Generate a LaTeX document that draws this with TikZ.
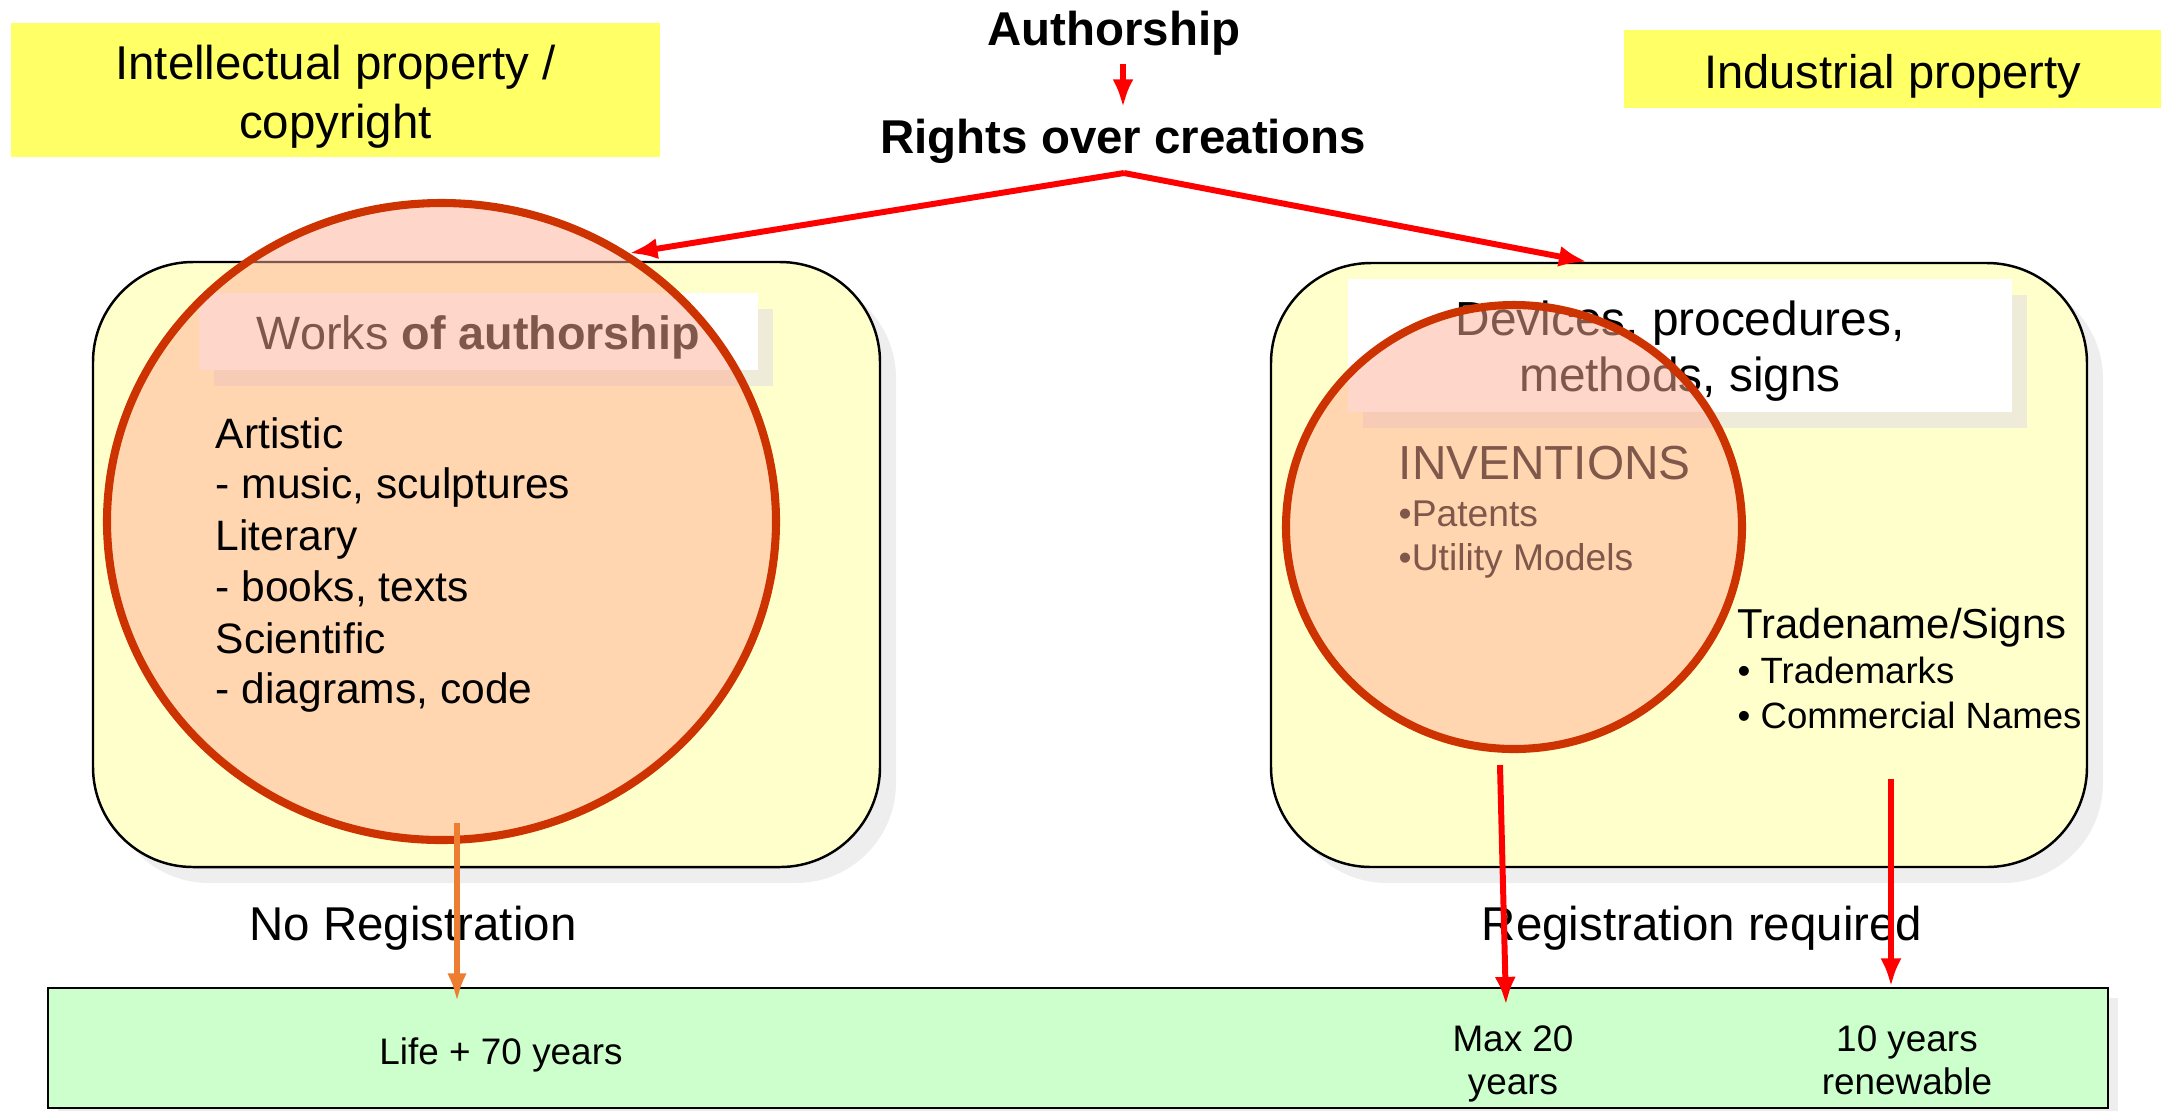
\documentclass[tikz,border=0pt]{standalone}
\usepackage{fontspec}
\setmainfont{Liberation Sans}
\usetikzlibrary{arrows.meta,shapes.geometric,shadows}
\definecolor{hlyellow}{RGB}{255,255,102}
\definecolor{paleyellow}{RGB}{255,255,204}
\definecolor{palegreen}{RGB}{204,255,204}
\definecolor{rimred}{RGB}{204,51,0}
\definecolor{blobfill}{RGB}{255,175,150}
\definecolor{arrred}{RGB}{255,0,0}
\definecolor{arrorange}{RGB}{237,125,49}
\definecolor{boxshade}{RGB}{238,238,238}
\definecolor{hdrshade}{RGB}{238,235,216}
\newcommand{\sz}[2]{\fontsize{#1}{#2}\selectfont}

\begin{document}
\begin{tikzpicture}[x=1cm,y=-1cm,
    labelbox/.style={rectangle,fill=hlyellow,inner sep=0pt},
    areabox/.style={rectangle,draw,line width=0.7pt,fill=paleyellow,rounded corners=1cm,inner sep=0pt,
      drop shadow={shadow xshift=0.16cm,shadow yshift=-0.16cm,fill=boxshade,opacity=1}},
    headbox/.style={rectangle,fill=white,inner sep=0pt,
      drop shadow={shadow xshift=0.15cm,shadow yshift=-0.16cm,fill=hdrshade,opacity=1}},
    blob/.style={ellipse,draw=rimred,line width=2.3pt,fill=blobfill,fill opacity=0.5,inner sep=0pt},
    redarr/.style={draw=arrred,line width=1.7pt,-{Latex[length=8pt,width=6pt]}},
    orangearr/.style={draw=arrorange,line width=1.5pt,-{Latex[length=8pt,width=5.5pt]}},
    txt/.style={inner sep=0pt,anchor=base west}]
      \useasboundingbox (0,0) rectangle (21.61,11.10);
      % the two kinds of property
      \node[labelbox,minimum width=6.49cm,minimum height=1.34cm] (ipbox) at (3.355,0.90) {};
      \node[align=center,inner sep=0pt,font=\sz{13.5}{16.8}] (iptext) at ([yshift=-0.07cm]ipbox.center) {Intellectual property /\\copyright};
      \node[labelbox,minimum width=5.37cm,minimum height=0.78cm] (indbox) at (18.925,0.69) {};
      \node[inner sep=0pt,font=\sz{13.4}{15}] (indtext) at ([yshift=-0.07cm]indbox.center) {Industrial property};
      \node[font=\bfseries\sz{13.5}{16},inner sep=1pt,anchor=base] (auth) at (11.14,0.45) {Authorship};
      \node[font=\bfseries\sz{13.5}{16},inner sep=1pt,anchor=base] (rights) at (11.23,1.53) {Rights over creations};
      \draw[redarr,shorten <=0.05cm,shorten >=0.07cm] (auth.south -| rights.north) -- (rights.north);
      \coordinate (fork) at (11.24,1.73);
      % areas
      \node[areabox,minimum width=7.87cm,minimum height=6.05cm] (lbox) at (4.865,5.645) {};
      \node[areabox,minimum width=8.16cm,minimum height=6.04cm] (rbox) at (16.79,5.65) {};
      \node[headbox,minimum width=5.59cm,minimum height=0.77cm] (lhead) at (4.785,3.315) {};
      \node[inner sep=0pt,font=\sz{13.3}{15}] (lheadtext) at ([yshift=-0.06cm]lhead.center) {Works \textbf{of authorship}};
      \node[headbox,minimum width=6.64cm,minimum height=1.33cm] (rhead) at (16.80,3.455) {};
      \node[align=center,inner sep=0pt,font=\sz{13.6}{15.9}] (rheadtext) at ([yshift=-0.06cm]rhead.center) {Devices, procedures,\\methods, signs};
      \node[txt,font=\sz{13.6}{16}] (inv) at (13.98,4.79) {INVENTIONS};
      \node[txt,font=\sz{10.6}{12}] (pat) at (13.98,5.26) {•Patents};
      \node[txt,font=\sz{10.6}{12}] (util) at (13.98,5.70) {•Utility Models};
      % circles
      \node[blob,minimum width=6.69cm,minimum height=6.37cm] (lcirc) at (4.415,5.215) {};
      \node[blob,minimum width=4.56cm,minimum height=4.44cm] (rcirc) at (15.14,5.27) {};
      % works
      \node[txt,font=\sz{12.1}{14.5}] (art) at (2.15,4.48) {Artistic};
      \node[txt,font=\sz{12.1}{14.5}] (artx) at (2.15,4.98) {- music, sculptures};
      \node[txt,font=\sz{12.1}{14.5}] (lit) at (2.15,5.50) {Literary};
      \node[txt,font=\sz{12.1}{14.5}] (litx) at (2.15,6.01) {- books, texts};
      \node[txt,font=\sz{12.1}{14.5}] (sci) at (2.15,6.53) {Scientific};
      \node[txt,font=\sz{12.1}{14.5}] (scix) at (2.15,7.03) {- diagrams, code};
      \node[txt,font=\sz{11.9}{14}] (trade) at (17.37,6.38) {Tradename/Signs};
      \node[txt,font=\sz{10.4}{12}] (tm) at (17.37,6.83) {• Trademarks};
      \node[txt,font=\sz{10.4}{12}] (cn) at (17.37,7.28) {• Commercial Names};
      % registration and terms
      \node[font=\sz{13.5}{16},inner sep=0pt,anchor=base] (noreg) at (4.13,9.40) {No Registration};
      \node[font=\sz{13.5}{16},inner sep=0pt,anchor=base] (reqreg) at (17.02,9.40) {Registration required};
      \node[rectangle,draw,line width=0.8pt,fill=palegreen,minimum width=20.60cm,minimum height=1.20cm,
        drop shadow={shadow xshift=0.1cm,shadow yshift=-0.1cm,fill=boxshade,opacity=1}] (terms) at (10.78,10.48) {};
      \node[font=\sz{10.5}{12},inner sep=0pt,anchor=base] (life) at (5.01,10.64) {Life + 70 years};
      \node[font=\sz{10.5}{12.3},inner sep=0pt,align=center] (max) at (15.13,10.64) {Max 20\\years};
      \node[font=\sz{10.5}{12.3},inner sep=0pt,align=center] (renew) at (19.07,10.60) {10 years\\renewable};
      % arrows
      \coordinate (lfoot) at (4.57,8.23);
      \coordinate (ifoot) at (15.00,7.65);
      \coordinate (itip) at (15.06,10.05);
      \coordinate (tfoot) at (18.91,7.79);
      \draw[redarr] (fork) -- (lcirc.55);
      \draw[redarr] (fork) -- ([xshift=-9.2mm]rbox.north);
      \draw[orangearr,shorten >=-1.5mm] (lfoot) -- (lfoot |- terms.north);
      \draw[redarr] (ifoot) -- (itip);
      \draw[redarr] (tfoot) -- (tfoot |- terms.north);
\end{tikzpicture}
\end{document}
